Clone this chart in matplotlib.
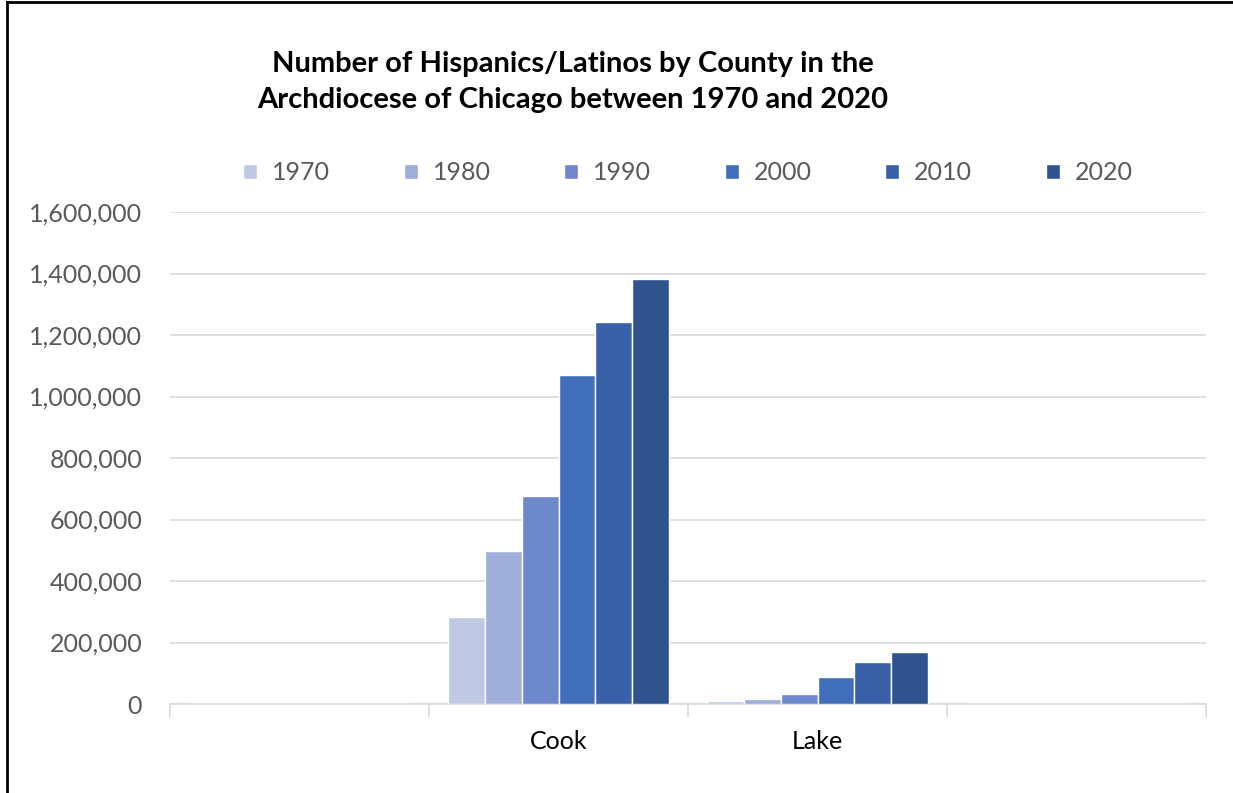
import matplotlib.pyplot as plt
import numpy as np
from matplotlib.lines import Line2D
from matplotlib.ticker import FuncFormatter

plt.rcParams['font.family'] = ['Lato', 'DejaVu Sans']

counties = ['', 'Cook', 'Lake', '']
years = ['1970', '1980', '1990', '2000', '2010', '2020']
cook = [284000, 498000, 675000, 1069000, 1242000, 1381000]
lake = [9000, 16000, 33500, 89000, 135000, 168000]
colors = ['#C0C9E3', '#9FAED8', '#6E89CB', '#406EBB', '#3A61A7', '#30538F']

# values per year for each county slot (the empty slots have no bars)
values = [[0, c, l, 0] for c, l in zip(cook, lake)]

W, H = 1233, 793
fig = plt.figure(figsize=(W / 100, H / 100), dpi=100)
ax = fig.add_axes([170 / W, 1 - 704 / H, (1206 - 170) / W, (704 - 212) / H])

x = np.arange(len(counties))
bw = 0.85 / 6
for i, yr in enumerate(years):
    ax.bar(x - 0.425 + bw * (i + 0.5), values[i], width=bw, color=colors[i],
           edgecolor='white', linewidth=1.0, label=yr, zorder=3)

ax.set_xlim(-0.5, len(counties) - 0.5)
ax.set_ylim(0, 1600000)
ax.set_yticks(np.arange(0, 1600001, 200000))
ax.yaxis.set_major_formatter(FuncFormatter(lambda v, p: f'{int(v):,}'))
ax.grid(axis='y', color='#D9D9D9', linewidth=1.2, zorder=0)

ax.set_xticks(x)
ax.set_xticklabels(counties)
ax.set_xticks(np.arange(-0.5, len(counties)), minor=True)
ax.tick_params(axis='x', which='major', length=0, pad=19, labelsize=18, labelcolor='#000000')
ax.tick_params(axis='x', which='minor', length=9, width=1.2, color='#D9D9D9')
ax.tick_params(axis='y', length=0, pad=20, labelsize=18, labelcolor='#595959')

for s in ['top', 'right', 'left']:
    ax.spines[s].set_visible(False)
ax.spines['bottom'].set_color('#D9D9D9')
ax.spines['bottom'].set_linewidth(1.2)

fig.text(573 / W, 1 - 82 / H,
         'Number of Hispanics/Latinos by County in the\nArchdiocese of Chicago between 1970 and 2020',
         ha='center', va='center', fontsize=21, fontweight='bold', linespacing=1.45)

fig.legend(loc='center', bbox_to_anchor=(688 / W, 1 - 173 / H), ncol=6, frameon=False,
           fontsize=18, handlelength=0.55, handleheight=0.55, handletextpad=0.6,
           columnspacing=2.95, labelcolor='#595959')

# outer chart border (left and top edges visible in the crop)
fig.add_artist(Line2D([7 / W, 7 / W], [0, 1 - 2 / H], color='black', linewidth=2))
fig.add_artist(Line2D([7 / W, 1], [1 - 2 / H, 1 - 2 / H], color='black', linewidth=2))

fig.savefig('out.png', dpi=100)
